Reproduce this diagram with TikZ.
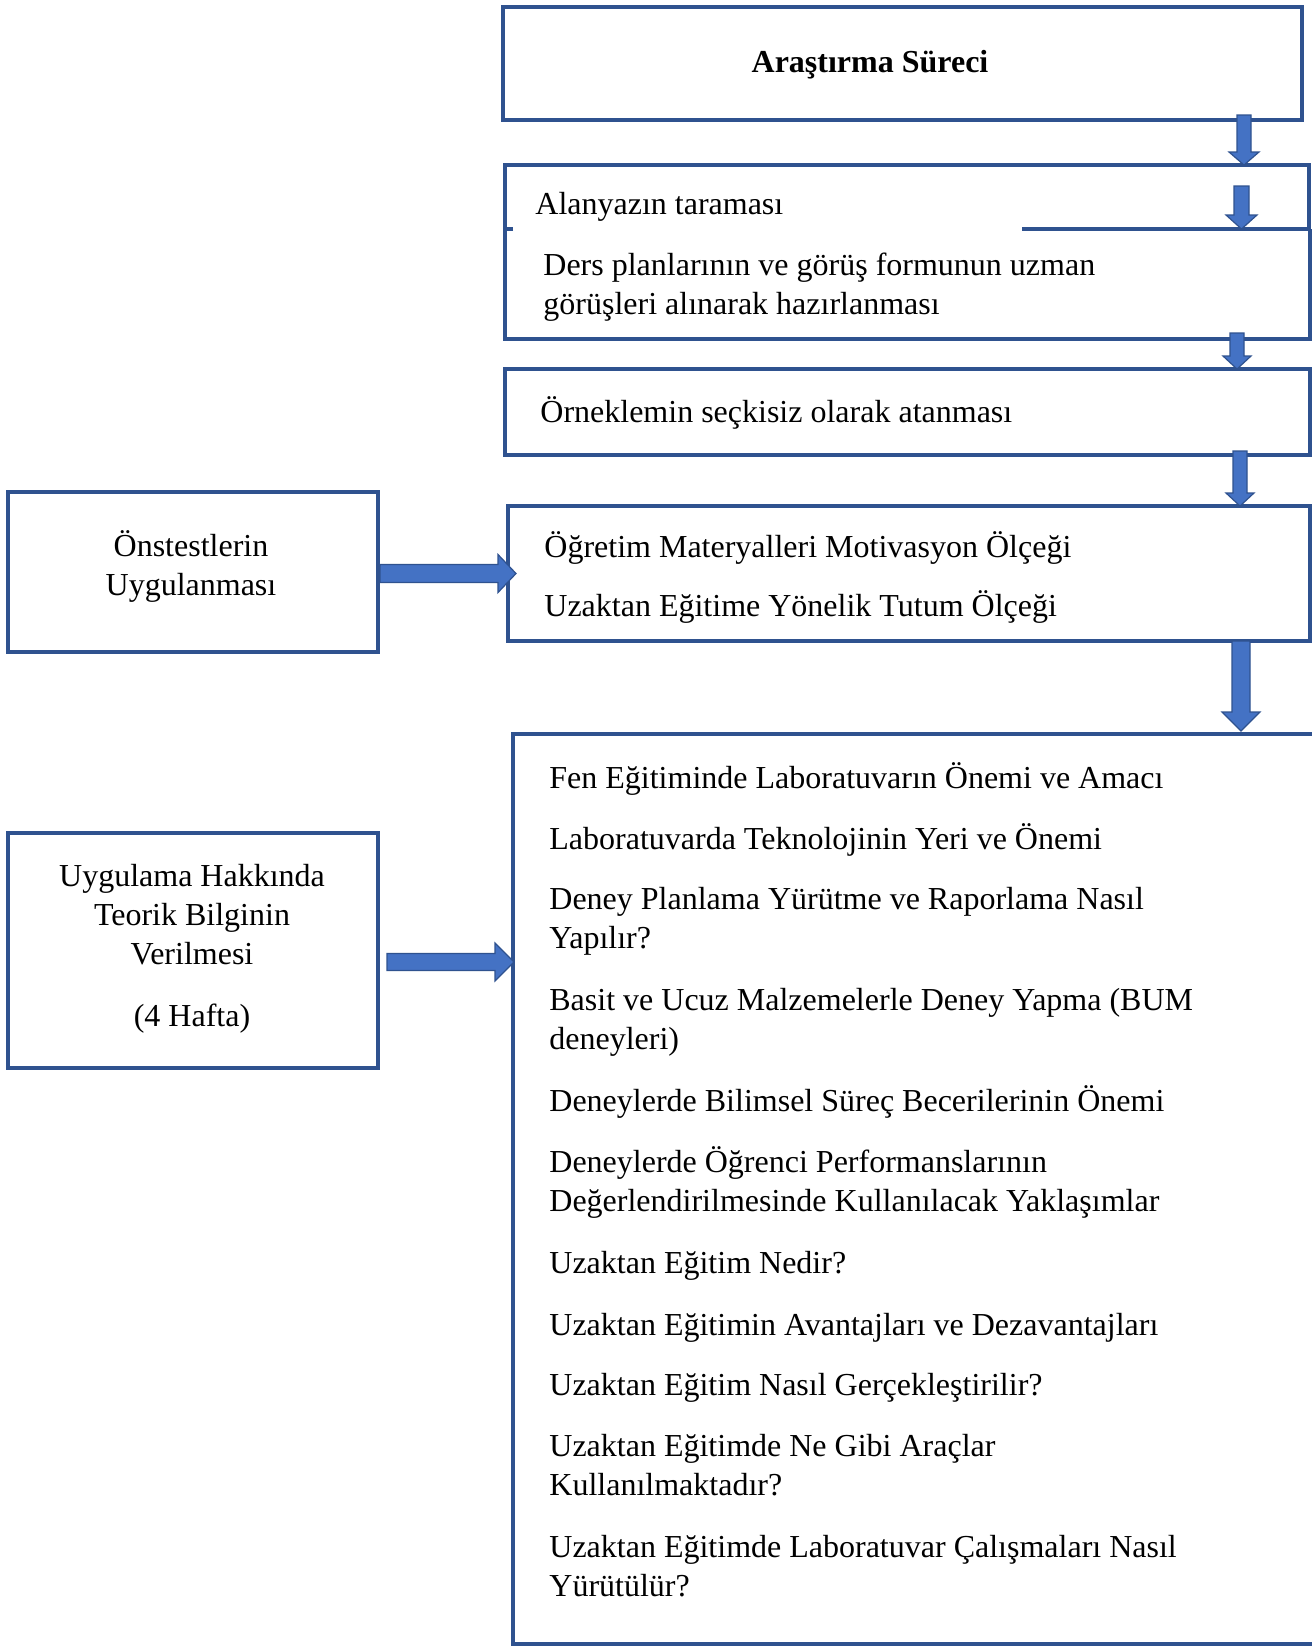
\documentclass[tikz,border=0pt]{standalone}
\usepackage{fontspec}
\setmainfont{Liberation Serif}
\usetikzlibrary{calc,fit}
\definecolor{boxblue}{HTML}{2F528F}
\definecolor{arrowblue}{HTML}{4472C4}
\tikzset{
  boxline/.style={draw=boxblue, line width=1.6pt},
  frame/.style={boxline, inner sep=0pt, outer sep=0pt},
  area/.style={inner sep=0pt, outer sep=0pt},
  txt/.style={font=\fontsize{16}{19.5}\selectfont, inner sep=0pt, anchor=base west, align=left},
  ctxt/.style={font=\fontsize{16}{19.5}\selectfont, inner sep=0pt, anchor=base, align=center},
  blockarrow/.style={fill=arrowblue, draw=boxblue, line width=0.6pt, line join=miter},
}
% #1 start, #2 tip, #3 shaft half width, #4 head half width, #5 head length (px)
\newcommand\downblock[5]{%
  \filldraw[blockarrow] ($(#1)+(-#3,0)$) -- ($(#1)+(#3,0)$) -- ($(#2)+(#3,-#5)$) -- ($(#2)+(#4,-#5)$)
    -- (#2) -- ($(#2)+(-#4,-#5)$) -- ($(#2)+(-#3,-#5)$) -- cycle;}
\newcommand\rightblock[5]{%
  \filldraw[blockarrow] ($(#1)+(0,-#3)$) -- ($(#2)+(-#5,-#3)$) -- ($(#2)+(-#5,-#4)$)
    -- (#2) -- ($(#2)+(-#5,#4)$) -- ($(#2)+(-#5,#3)$) -- ($(#1)+(0,#3)$) -- cycle;}
\begin{document}
\begin{tikzpicture}[x=0.5pt,y=-0.5pt]
\useasboundingbox (0,0) rectangle (1312,1646);
\fill[white] (0,0) rectangle (1312,1646);

% boxes
\node[frame, fit={(503,7) (1302,120)}] (box1) {};
\node[area, fit={(505,165) (1309,229)}] (box2) {};
\node[area, fit={(505,229) (1310,339)}] (box3) {};
\node[frame, fit={(505,369) (1310,455)}] (box4) {};
\node[frame, fit={(508,506) (1310,641)}] (box5) {};
\node[frame, fit={(513,734) (1340,1644)}] (box6) {};
\node[frame, fit={(8,492) (378,652)}] (boxA) {};
\node[frame, fit={(8,833) (378,1068)}] (boxB) {};

\draw[boxline] ($(box2.south west)+(8,0)$) -- (box2.south west) -- (box2.north west)
  -- (box2.north east) -- (box2.south east) -- ($(box2.south west)+(517,0)$);
\draw[boxline] (box3.north west) -- (box3.south west) -- (box3.south east) -- (box3.north east);

% texts
\node[ctxt, font=\fontsize{16}{19.5}\selectfont\bfseries] (t1) at (870,72) {Araştırma Süreci};
\node[txt] (t2) at (535,214) {Alanyazın taraması};
\node[txt] (t3) at (543,314) {Ders planlarının ve görüş formunun uzman\\görüşleri alınarak hazırlanması};
\node[txt] (t4) at (540,422) {Örneklemin seçkisiz olarak atanması};
\node[txt] (t5a) at (544,557) {Öğretim Materyalleri Motivasyon Ölçeği};
\node[txt] (t5b) at (544,616) {Uzaktan Eğitime Yönelik Tutum Ölçeği};

\node[txt] (i1) at (549,788) {Fen Eğitiminde Laboratuvarın Önemi ve Amacı};
\node[txt] (i2) at (549,849) {Laboratuvarda Teknolojinin Yeri ve Önemi};
\node[txt] (i3) at (549,948) {Deney Planlama Yürütme ve Raporlama Nasıl\\Yapılır?};
\node[txt] (i4) at (549,1049) {Basit ve Ucuz Malzemelerle Deney Yapma (BUM\\deneyleri)};
\node[txt] (i5) at (549,1111) {Deneylerde Bilimsel Süreç Becerilerinin Önemi};
\node[txt] (i6) at (549,1211) {Deneylerde Öğrenci Performanslarının\\Değerlendirilmesinde Kullanılacak Yaklaşımlar};
\node[txt] (i7) at (549,1273) {Uzaktan Eğitim Nedir?};
\node[txt] (i8) at (549,1335) {Uzaktan Eğitimin Avantajları ve Dezavantajları};
\node[txt] (i9) at (549,1395) {Uzaktan Eğitim Nasıl Gerçekleştirilir?};
\node[txt] (i10) at (549,1495) {Uzaktan Eğitimde Ne Gibi Araçlar\\Kullanılmaktadır?};
\node[txt] (i11) at (549,1596) {Uzaktan Eğitimde Laboratuvar Çalışmaları Nasıl\\Yürütülür?};

\node[ctxt] (tA) at (191,595) {Önstestlerin\\Uygulanması};
\node[ctxt] (tB) at (192,964) {Uygulama Hakkında\\Teorik Bilginin\\Verilmesi};
\node[ctxt] (tB2) at (192,1026) {(4 Hafta)};

% arrows
\coordinate (a1) at (1244,115);
\coordinate (a2) at (1241.5,186);
\coordinate (a3) at (1237,333);
\coordinate (a4) at (1240,451);
\coordinate (a5) at (1241,641);
\downblock{a1}{box2.north -| a1}{7}{15}{13}
\downblock{a2}{box2.south -| a2}{7.5}{15.5}{14}
\downblock{a3}{box4.north -| a3}{7}{14}{13}
\downblock{a4}{box5.north -| a4}{7}{14}{13}
\downblock{a5}{$(box6.north -| a5)+(0,-3)$}{9}{19}{19}

\coordinate (aA) at ($(boxA.east |- 0,573.5)+(2,0)$);
\coordinate (aB) at ($(boxB.east |- 0,962)+(9,0)$);
\rightblock{aA}{$(box5.west |- aA)+(8,0)$}{9}{19}{18}
\rightblock{aB}{$(box6.west |- aB)+(1,0)$}{8.5}{19}{19}
\end{tikzpicture}
\end{document}
